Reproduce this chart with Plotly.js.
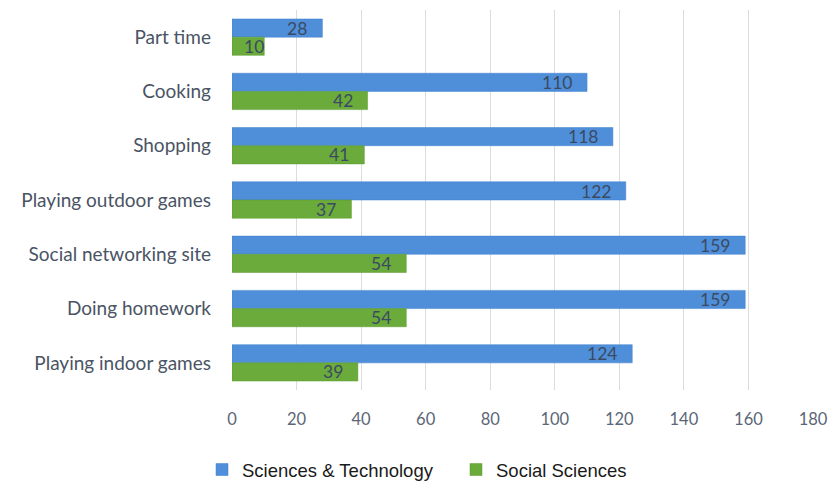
<!DOCTYPE html>
<html>
<head>
<meta charset="utf-8">
<script src="https://cdn.plot.ly/plotly-3.0.1.min.js"></script>
<style>
  html, body { margin: 0; padding: 0; background: #ffffff; }
  #chart { width: 832px; height: 482px; }
</style>
</head>
<body>
<div id="chart"></div>
<script>
// Activities, top to bottom
const activities = [
  "Part time",
  "Cooking",
  "Shopping",
  "Playing outdoor games",
  "Social networking site",
  "Doing homework",
  "Playing indoor games"
];
const sciTech = [28, 110, 118, 122, 159, 159, 124];
const socialSci = [10, 42, 41, 37, 54, 54, 39];
const seriesNames = ["Sciences & Technology", "Social Sciences"];
const xTicks = [0, 20, 40, 60, 80, 100, 120, 140, 160, 180];

const W = 832, H = 482;
const M = { l: 232, r: 19, t: 10, b: 92 };
const X_MAX = 180;
const pxPerUnit = (W - M.l - M.r) / X_MAX;

const labelFont = { family: "Lato, 'Open Sans', sans-serif", size: 17.5, color: "#3b4a62" };

const traces = [
  {
    type: "bar", orientation: "h", name: seriesNames[0],
    y: activities, x: sciTech,
    marker: { color: "#4f8fda", line: { color: "#3f7fcc", width: 0.5 } },
    hoverinfo: "x+name"
  },
  {
    type: "bar", orientation: "h", name: seriesNames[1],
    y: activities, x: socialSci,
    marker: { color: "#6aab3b", line: { color: "#5a9a2e", width: 0.5 } },
    hoverinfo: "x+name"
  }
];

// value labels sit just inside the end of each bar; very short bars
// keep the label against the bar end instead of pushing it off the axis
const annotations = [];
[sciTech, socialSci].forEach((vals, s) => {
  vals.forEach((v, i) => {
    const barPx = v * pxPerUnit;
    annotations.push({
      x: v, y: activities[i], xref: "x", yref: "y",
      text: String(v), showarrow: false,
      xanchor: "right", xshift: barPx < 45 ? 2 : -13,
      yshift: s === 0 ? 9 : -9,
      font: labelFont
    });
  });
});

const layout = {
  width: W, height: H,
  margin: M,
  paper_bgcolor: "#ffffff", plot_bgcolor: "#ffffff",
  barmode: "group", bargap: 0.33, bargroupgap: 0,
  showlegend: true,
  legend: {
    orientation: "h",
    xref: "container", yref: "container",
    x: 202 / W, xanchor: "left",
    y: (H - 470) / H, yanchor: "middle",
    font: { family: "'Liberation Sans', Arial, sans-serif", size: 18.5, color: "#1a1a1a" },
    itemwidth: 30, entrywidth: 209, traceorder: "normal"
  },
  xaxis: {
    range: [0, X_MAX], tickvals: xTicks, ticktext: xTicks.map(String),
    showgrid: true, gridcolor: "#dcdcdc", gridwidth: 1,
    zeroline: false, showline: false, ticks: "",
    ticklabelstandoff: 17,
    tickfont: { family: "Lato, 'Open Sans', sans-serif", size: 16.5, color: "#5b6677" },
    fixedrange: true
  },
  yaxis: {
    autorange: "reversed", type: "category",
    showgrid: false, zeroline: false, showline: false, ticks: "",
    ticklabelstandoff: 20,
    tickfont: { family: "Lato, 'Open Sans', sans-serif", size: 19, color: "#4a5464" },
    fixedrange: true
  },
  annotations: annotations
};

Plotly.newPlot("chart", traces, layout, { displayModeBar: false, staticPlot: true });
</script>
</body>
</html>
